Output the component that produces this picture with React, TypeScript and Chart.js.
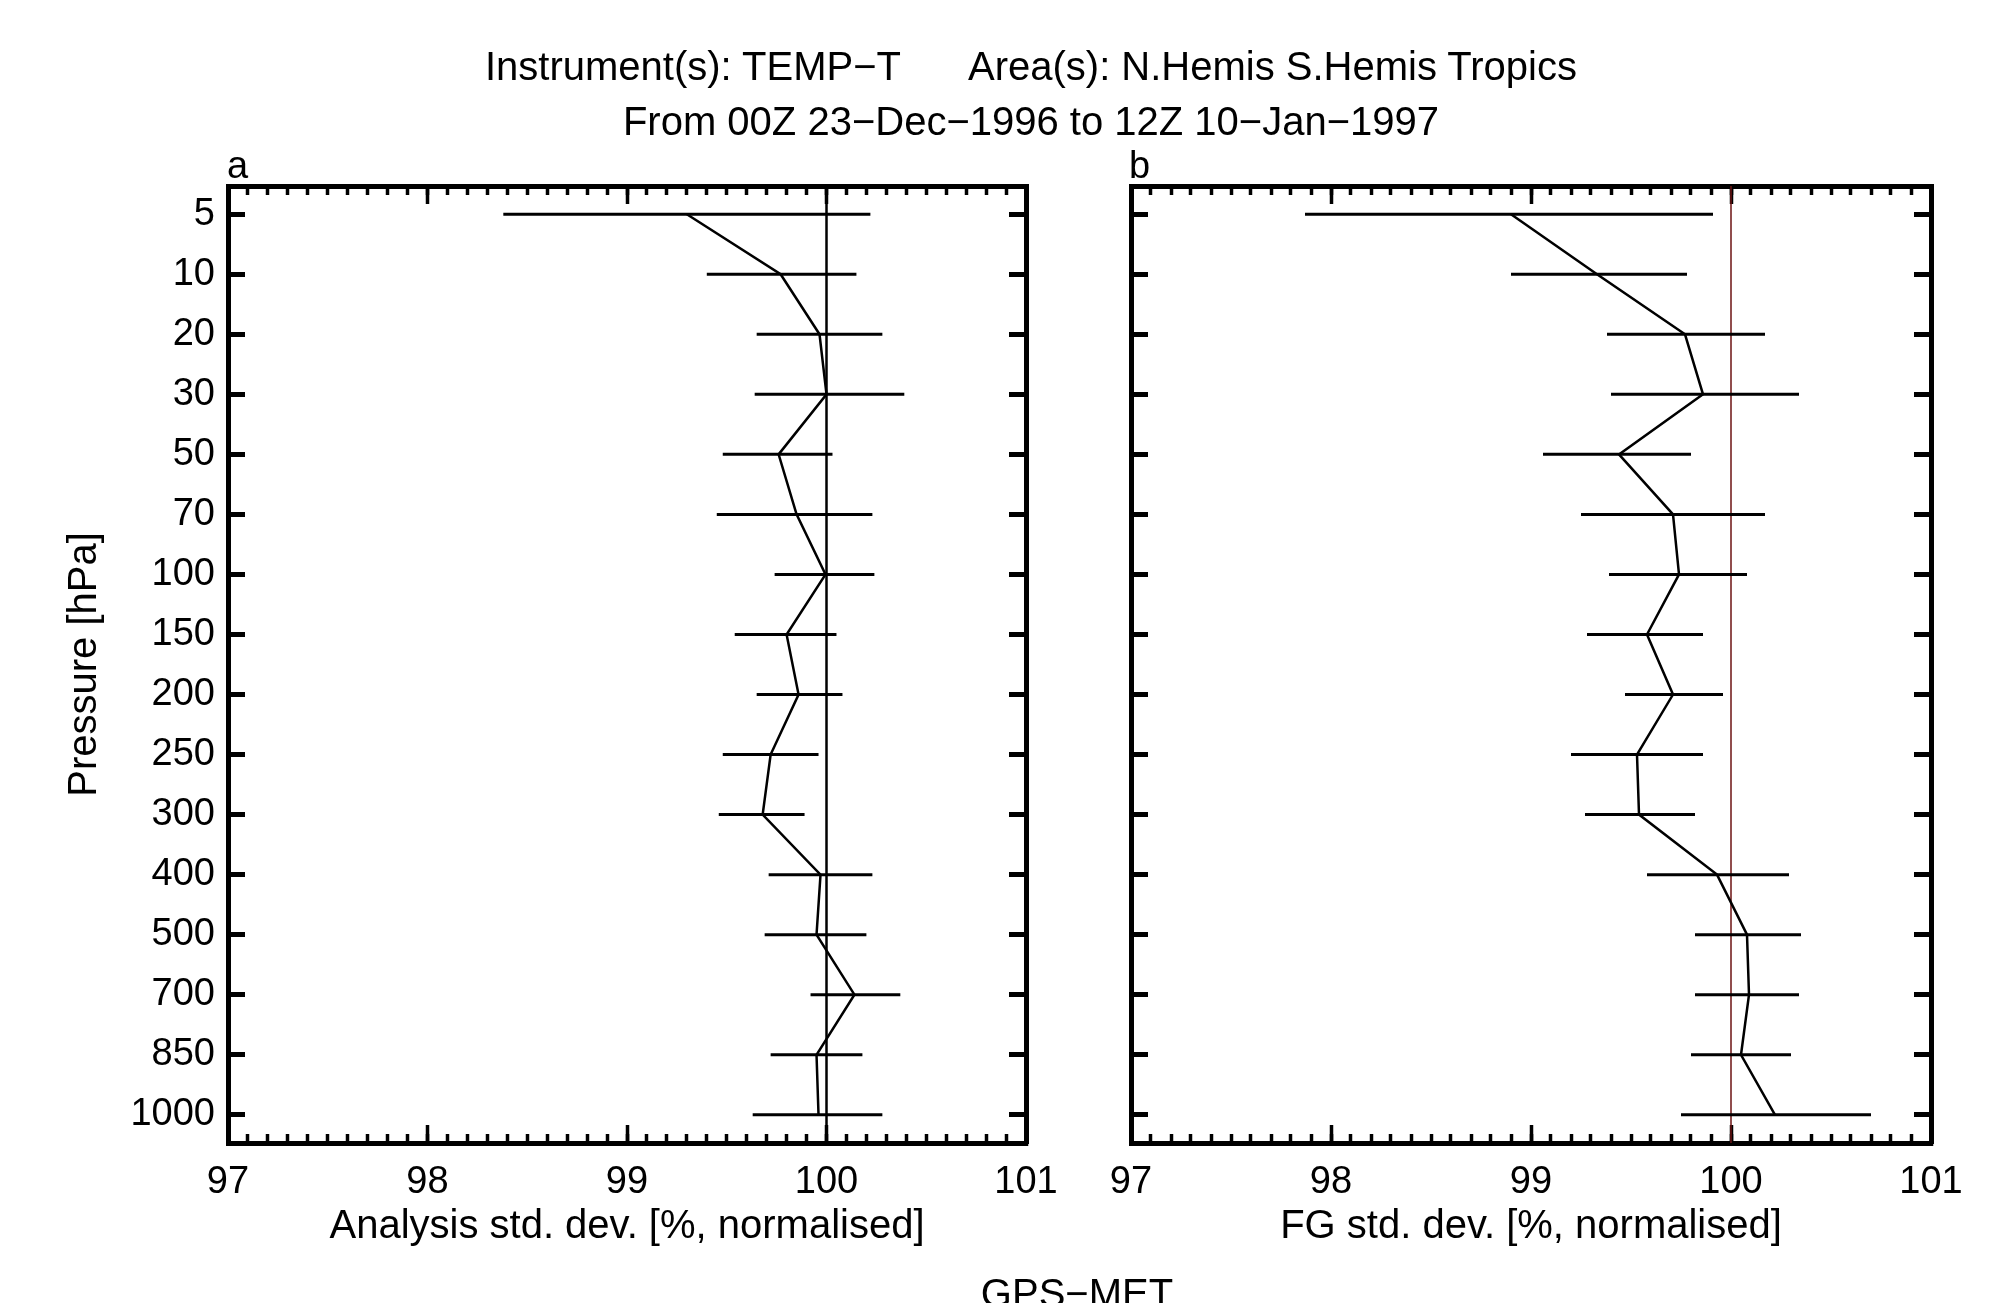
import React, { useEffect, useRef } from 'react';
import { Chart, registerables } from 'chart.js';

Chart.register(...registerables);

// ---------------- data ----------------
const levels = ['5', '10', '20', '30', '50', '70', '100', '150', '200', '250', '300', '400', '500', '700', '850', '1000'];
const xTickValues = [97, 98, 99, 100, 101];
const referenceValue = 100;

// Panel a: analysis std. dev. (normalised) with error bar ends
const anMean = [99.30, 99.77, 99.965, 100.0, 99.76, 99.85, 99.995, 99.80, 99.86, 99.72, 99.68, 99.97, 99.95, 100.14, 99.95, 99.96];
const anLo = [98.38, 99.40, 99.65, 99.64, 99.48, 99.45, 99.74, 99.54, 99.65, 99.48, 99.46, 99.71, 99.69, 99.92, 99.72, 99.63];
const anHi = [100.22, 100.15, 100.28, 100.39, 100.03, 100.23, 100.24, 100.05, 100.08, 99.96, 99.89, 100.23, 100.20, 100.37, 100.18, 100.28];

// Panel b: first-guess std. dev. (normalised) with error bar ends
const fgMean = [98.90, 99.33, 99.77, 99.86, 99.44, 99.71, 99.74, 99.58, 99.71, 99.53, 99.54, 99.93, 100.08, 100.09, 100.05, 100.22];
const fgLo = [97.87, 98.90, 99.38, 99.40, 99.06, 99.25, 99.39, 99.28, 99.47, 99.20, 99.27, 99.58, 99.82, 99.82, 99.80, 99.75];
const fgHi = [99.91, 99.78, 100.17, 100.34, 99.80, 100.17, 100.08, 99.86, 99.96, 99.86, 99.82, 100.29, 100.35, 100.34, 100.30, 100.70];

const titleLine1a = 'Instrument(s): TEMP\u2212T';
const titleLine1b = 'Area(s): N.Hemis S.Hemis Tropics';
const titleLine2 = 'From 00Z 23\u2212Dec\u22121996 to 12Z 10\u2212Jan\u22121997';
const xTitleA = 'Analysis std. dev. [%, normalised]';
const xTitleB = 'FG std. dev. [%, normalised]';
const yTitle = 'Pressure [hPa]';
const footer = 'GPS\u2212MET';

// ---------------- styling / layout ----------------
const FONT = '"Liberation Sans", Arial, Helvetica, sans-serif';
const FS_TICK = 38;
const FS_TITLE = 40;
const X_MIN = 97;
const X_MAX = 101;
const Y_PAD = 0.47;
const CANVAS_H = 1303;
const SPLIT = 1080;
const minorStep = 0.1;

type PanelProps = {
  mean: number[];
  lo: number[];
  hi: number[];
  refColor: string;
  refWidth: number;
  xTitle: string;
  yTitle?: string;
  showYLabels: boolean;
  yWidth: number;
  padLeft: number;
  padRight: number;
};

function buildConfig(p: PanelProps): any {
  const yMin = -Y_PAD;
  const yMax = levels.length - 1 + Y_PAD;
  const meanData = levels.map((_, i) => ({ x: p.mean[i], y: i }));
  const barData = levels.flatMap((_, i) => [
    { x: p.lo[i], y: i },
    { x: p.hi[i], y: i },
    { x: null, y: i },
  ]);
  const refData = [
    { x: referenceValue, y: yMin },
    { x: referenceValue, y: yMax },
  ];
  const nMinor = Math.round((X_MAX - X_MIN) / minorStep);
  const minorValues: number[] = [];
  for (let i = 0; i <= nMinor; i++) minorValues.push(+(X_MIN + i * minorStep).toFixed(2));

  const majorX = (s: any) => { s.ticks = xTickValues.map((v) => ({ value: v })); };
  const minorX = (s: any) => { s.ticks = minorValues.map((v) => ({ value: v })); };
  const yTicks = (s: any) => { s.ticks = levels.map((_, i) => ({ value: i })); };
  const hFit = (h: number) => (s: any) => {
    s.height = h;
    s.paddingLeft = 0;
    s.paddingRight = 0;
  };
  const vFit = (w: number) => (s: any) => {
    s.width = w;
    s.paddingTop = 0;
    s.paddingBottom = 0;
  };
  const tickFont = { family: FONT, size: FS_TICK };
  const titleFont = { family: FONT, size: FS_TITLE };
  const border = { display: true, width: 5, color: '#000' };

  const xBase = { type: 'linear', min: X_MIN, max: X_MAX };
  const xMajorGrid = { drawOnChartArea: false, drawTicks: true, tickLength: -18, tickWidth: 3.5, tickColor: '#000' };
  const xMinorGrid = { drawOnChartArea: false, drawTicks: true, tickLength: -9, tickWidth: 3.5, tickColor: '#000' };
  const yGrid = { drawOnChartArea: false, drawTicks: true, tickLength: -17, tickWidth: 5, tickColor: '#000' };
  const yBase = { type: 'linear', reverse: true, min: yMin, max: yMax, afterBuildTicks: yTicks };

  return {
    type: 'line',
    data: {
      datasets: [
        { data: meanData, xAxisID: 'x', yAxisID: 'y', borderColor: '#000', borderWidth: 2.5, pointRadius: 0, tension: 0, fill: false },
        { data: barData, xAxisID: 'x', yAxisID: 'y', borderColor: '#000', borderWidth: 3, pointRadius: 0, spanGaps: false, fill: false },
        { data: refData, xAxisID: 'x', yAxisID: 'y', borderColor: p.refColor, borderWidth: p.refWidth, pointRadius: 0, fill: false },
      ],
    },
    options: {
      animation: false,
      responsive: false,
      events: [],
      layout: { padding: { left: p.padLeft, right: p.padRight, top: 186, bottom: 0 } },
      plugins: { legend: { display: false }, tooltip: { enabled: false }, title: { display: false } },
      scales: {
        x: {
          ...xBase,
          position: 'bottom',
          weight: 1,
          afterBuildTicks: majorX,
          afterFit: hFit(160),
          border,
          grid: xMajorGrid,
          ticks: { display: true, autoSkip: false, maxRotation: 0, padding: 35, color: '#000', font: tickFont, callback: (v: any) => String(v) },
          title: { display: true, text: p.xTitle, color: '#000', font: titleFont, padding: { top: 0, bottom: 52.5 } },
        },
        xm: {
          ...xBase,
          position: 'bottom',
          weight: 0,
          afterBuildTicks: minorX,
          afterFit: hFit(0),
          border: { display: false },
          grid: xMinorGrid,
          ticks: { display: false },
        },
        xt: {
          ...xBase,
          position: 'top',
          weight: 1,
          afterBuildTicks: majorX,
          afterFit: hFit(0),
          border,
          grid: xMajorGrid,
          ticks: { display: false },
        },
        xtm: {
          ...xBase,
          position: 'top',
          weight: 0,
          afterBuildTicks: minorX,
          afterFit: hFit(0),
          border: { display: false },
          grid: xMinorGrid,
          ticks: { display: false },
        },
        y: {
          ...yBase,
          position: 'left',
          afterFit: vFit(p.yWidth),
          border,
          grid: yGrid,
          ticks: {
            display: p.showYLabels,
            autoSkip: false,
            padding: 30,
            color: '#000',
            font: tickFont,
            callback: (_v: any, idx: number) => levels[idx],
          },
          title: { display: !!p.yTitle, text: p.yTitle || '', color: '#000', font: titleFont, padding: { top: 61, bottom: 0 } },
        },
        yr: {
          ...yBase,
          position: 'right',
          afterFit: vFit(0),
          border,
          grid: yGrid,
          ticks: { display: false },
        },
      },
    },
  };
}

function Panel({ left, width, props }: { left: number; width: number; props: PanelProps }) {
  const ref = useRef<HTMLCanvasElement | null>(null);
  useEffect(() => {
    if (!ref.current) return;
    const chart = new Chart(ref.current, buildConfig(props));
    return () => chart.destroy();
  }, []);
  return (
    <canvas
      ref={ref}
      width={width}
      height={CANVAS_H}
      style={{ position: 'absolute', left, top: 0, width, height: CANVAS_H }}
    />
  );
}

const textStyle: React.CSSProperties = {
  position: 'absolute',
  fontFamily: FONT,
  fontSize: FS_TITLE,
  lineHeight: `${FS_TITLE}px`,
  color: '#000',
  whiteSpace: 'nowrap',
};

export default function App() {
  return (
    <div style={{ position: 'absolute', left: 0, top: 0, width: 2002, height: 1303, overflow: 'hidden', background: '#fff' }}>
      <Panel
        left={0}
        width={SPLIT}
        props={{ mean: anMean, lo: anLo, hi: anHi, refColor: '#000', refWidth: 2.5, xTitle: xTitleA, yTitle, showYLabels: true, yWidth: 228, padLeft: 0, padRight: SPLIT - 1026 }}
      />
      <Panel
        left={SPLIT}
        width={2002 - SPLIT}
        props={{ mean: fgMean, lo: fgLo, hi: fgHi, refColor: '#6e1414', refWidth: 1.5, xTitle: xTitleB, showYLabels: false, yWidth: 0, padLeft: 1131 - SPLIT, padRight: 2002 - 1931 }}
      />
      <div style={{ ...textStyle, left: 485, top: 46 }}>{titleLine1a}</div>
      <div style={{ ...textStyle, left: 968, top: 46 }}>{titleLine1b}</div>
      <div style={{ ...textStyle, left: 1031 - 600, width: 1200, textAlign: 'center', top: 101 }}>{titleLine2}</div>
      <div style={{ ...textStyle, fontSize: 38, left: 227, top: 145 }}>a</div>
      <div style={{ ...textStyle, fontSize: 38, left: 1129, top: 145 }}>b</div>
      <div style={{ ...textStyle, left: 1077 - 300, width: 600, textAlign: 'center', top: 1273 }}>{footer}</div>
    </div>
  );
}
